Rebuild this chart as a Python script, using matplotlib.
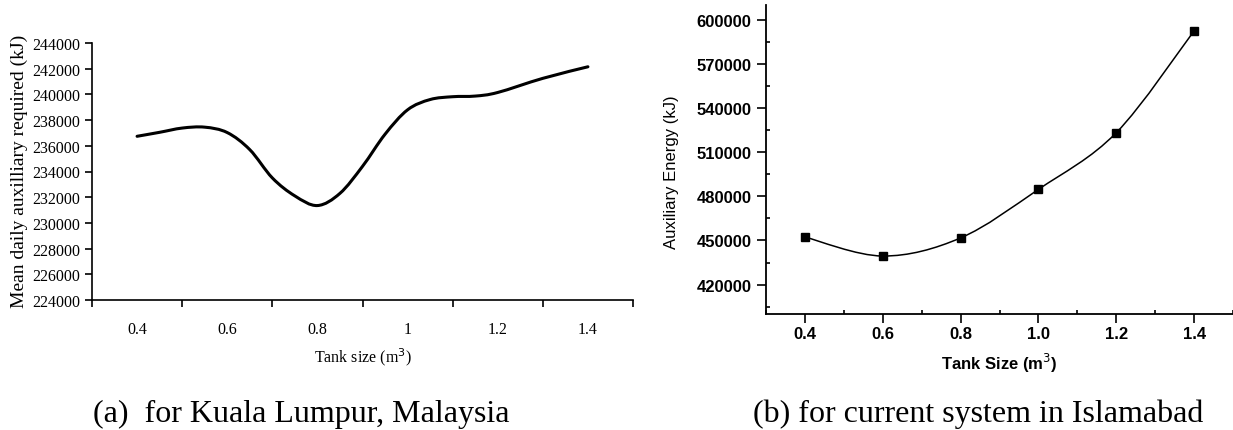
import matplotlib
matplotlib.use('Agg')
import matplotlib.pyplot as plt
import numpy as np
from matplotlib.path import Path
from matplotlib.patches import PathPatch
from matplotlib.ticker import FixedLocator, FixedFormatter, NullFormatter, MultipleLocator

# ---------------- data ----------------
# (a) Kuala Lumpur, Malaysia: values
kl_tank = [0.40, 0.45, 0.50, 0.55, 0.60, 0.65, 0.70, 0.75, 0.80, 0.85, 0.90,
           0.95, 1.00, 1.05, 1.10, 1.15, 1.20, 1.30, 1.40]
kl_aux = [236740, 237050, 237380, 237450, 237030, 235700, 233500, 232100, 231350,
          232300, 234400, 236900, 238800, 239600, 239820, 239870, 240150, 241250,
          242150]
kl_xtick_labels = ['0.4', '0.6', '0.8', '1', '1.2', '1.4']
kl_yticks = [224000, 226000, 228000, 230000, 232000, 234000, 236000, 238000,
             240000, 242000, 244000]

# (b) current system in Islamabad
isb_tank = [0.4, 0.6, 0.8, 1.0, 1.2, 1.4]
isb_aux = [452300, 439400, 451700, 484700, 523200, 592400]
isb_xtick_labels = ['0.4', '0.6', '0.8', '1.0', '1.2', '1.4']
isb_yticks = [420000, 450000, 480000, 510000, 540000, 570000, 600000]

captions = ['(a)  for Kuala Lumpur, Malaysia', '(b) for current system in Islamabad']

SERIF = 'Liberation Serif'
SANS = 'Liberation Sans'


def smooth_path(xs, ys):
    """Smooth curve through the data points (Catmull-Rom as cubic Bezier)."""
    P = np.column_stack([xs, ys]).astype(float)
    ext = np.vstack([P[0], P, P[-1]])
    verts = [P[0]]
    codes = [Path.MOVETO]
    for i in range(len(P) - 1):
        p0, p1, p2, p3 = ext[i], ext[i + 1], ext[i + 2], ext[i + 3]
        c1 = p1 + (p2 - p0) / 6.0
        c2 = p2 - (p3 - p1) / 6.0
        verts += [c1, c2, p2]
        codes += [Path.CURVE4] * 3
    return Path(verts, codes)


W, H = 1233, 431
fig = plt.figure(figsize=(W / 100, H / 100), dpi=100)
fig.patch.set_facecolor('white')


def px_axes(x0, x1, ytop, ybot):
    return fig.add_axes([x0 / W, (H - ybot) / H, (x1 - x0) / W, (ybot - ytop) / H])


# ---------------- panel (a) ----------------
ax1 = px_axes(92, 633, 44, 301)
ax1.add_patch(PathPatch(smooth_path(kl_tank, kl_aux), fill=False, lw=2.2,
                        ec='black', capstyle='round', joinstyle='round'))
ax1.set_xlim(0.3, 1.5)
ax1.set_ylim(kl_yticks[0], kl_yticks[-1])
ax1.spines['top'].set_visible(False)
ax1.spines['right'].set_visible(False)
for s in ('left', 'bottom'):
    ax1.spines[s].set_linewidth(1.2)

ax1.xaxis.set_major_locator(MultipleLocator(0.2, offset=0.1))
ax1.xaxis.set_major_formatter(NullFormatter())
ax1.xaxis.set_minor_locator(FixedLocator([float(t) for t in kl_xtick_labels]))
ax1.xaxis.set_minor_formatter(FixedFormatter(kl_xtick_labels))
ax1.tick_params(axis='x', which='major', direction='out', length=5, width=1.2)
ax1.tick_params(axis='x', which='minor', length=0, pad=15, labelsize=11.5)
ax1.set_yticks(kl_yticks)
ax1.set_yticklabels([str(v) for v in kl_yticks])
ax1.tick_params(axis='y', direction='out', length=5, width=1.2, pad=3.6, labelsize=11.5)
for lab in ax1.get_xticklabels(minor=True) + ax1.get_yticklabels():
    lab.set_fontfamily(SERIF)

ax1.set_xlabel('Tank size (m$^3$)', fontsize=11.5, family=SERIF)
ax1.xaxis.label.set_va('center')
ax1.xaxis.set_label_coords(0.5, (301 - 357) / 257)
ax1.set_ylabel('Mean daily auxilliary required (kJ)', fontsize=14, family=SERIF)
ax1.yaxis.label.set_va('center')
ax1.yaxis.set_label_coords((19 - 92) / 541, (301 - 171.5) / 257)

# ---------------- panel (b) ----------------
ax2 = px_axes(766, 1233, 6, 315)
ax2.add_patch(PathPatch(smooth_path(isb_tank, isb_aux), fill=False, lw=1.1, ec='black'))
ax2.plot(isb_tank, isb_aux, ls='none', marker='s', ms=6, color='black')
ax2.set_xlim(0.3, 1.5)
ax2.set_ylim(400000, 610000)
ax2.spines['top'].set_visible(False)
ax2.spines['right'].set_visible(False)
for s in ('left', 'bottom'):
    ax2.spines[s].set_linewidth(1.3)

ax2.set_xticks([float(t) for t in isb_xtick_labels])
ax2.set_xticklabels(isb_xtick_labels)
ax2.xaxis.set_minor_locator(MultipleLocator(0.2, offset=0.1))
ax2.set_yticks(isb_yticks)
ax2.set_yticklabels([str(v) for v in isb_yticks])
ax2.yaxis.set_minor_locator(MultipleLocator(30000, offset=15000))
ax2.tick_params(axis='both', which='major', direction='out', length=6.5, width=1.2,
                labelsize=12)
ax2.tick_params(axis='x', which='major', pad=2.5)
ax2.tick_params(axis='y', which='major', pad=4)
ax2.tick_params(axis='both', which='minor', direction='in', length=3, width=1.2)
for lab in ax2.get_xticklabels() + ax2.get_yticklabels():
    lab.set_fontfamily(SANS)
    lab.set_fontweight('bold')

ax2.set_xlabel('Tank Size (m$^3$)', fontsize=12, family=SANS, fontweight='bold')
ax2.xaxis.label.set_va('center')
ax2.xaxis.set_label_coords(0.5, (315 - 363) / 309)
ax2.set_ylabel('Auxiliary Energy (kJ)', fontsize=12, family=SANS)
ax2.yaxis.label.set_va('center')
ax2.yaxis.set_label_coords((671 - 766) / 467, (315 - 172) / 309)

# ---------------- captions ----------------
fig.text(301 / W, 1 - 414 / H, captions[0], ha='center', va='center',
         fontsize=23, family=SERIF)
fig.text(978 / W, 1 - 414 / H, captions[1], ha='center', va='center',
         fontsize=23, family=SERIF)

fig.savefig('out.png', dpi=100, facecolor='white')
